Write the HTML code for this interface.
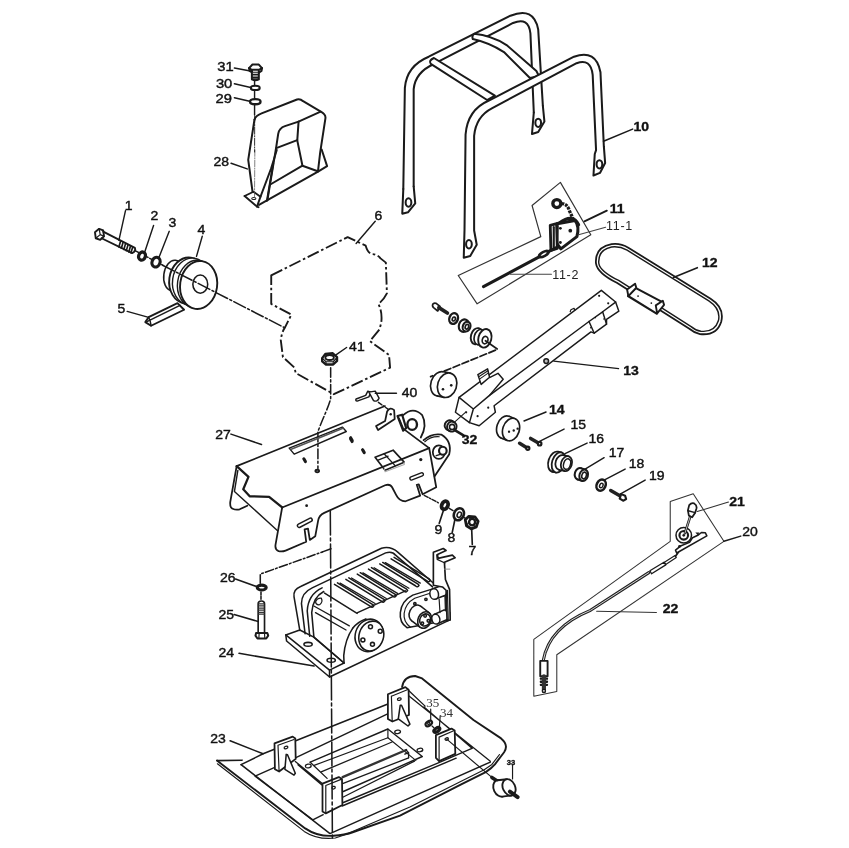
<!DOCTYPE html>
<html><head><meta charset="utf-8">
<style>
html,body{margin:0;padding:0;background:#fff;}
body{width:849px;height:848px;overflow:hidden;font-family:"Liberation Sans",sans-serif;}
svg{display:block;filter:grayscale(1);}
.l{fill:none;stroke:#1a1a1a;stroke-linecap:round;stroke-linejoin:round;}
.w{fill:#fff;stroke:#1a1a1a;stroke-linecap:round;stroke-linejoin:round;}
.k{fill:#1a1a1a;stroke:none;}
.t{font-family:"Liberation Sans",sans-serif;fill:#111;stroke:#111;stroke-width:0.4px;}
.tb{font-family:"Liberation Sans",sans-serif;font-weight:bold;fill:#111;stroke:#111;stroke-width:0.35px;}
</style></head><body>
<svg width="849" height="848" viewBox="0 0 849 848">
<rect width="849" height="848" fill="#fff"/>
<!-- part 28 guard -->
<g transform="translate(235,95) scale(0.12972)" class="l" stroke-width="15.34">
<path d="M150,190 Q158,160 205,142 L478,35 Q503,28 525,48 L658,126 Q702,148 697,180 L657,440 L640,585"/>
<path d="M660,128 L490,205 L385,240 Q340,255 333,300 L318,400 L250,810"/>
<path d="M490,205 L480,350 L520,545 L638,588"/>
<path d="M318,410 L480,348"/>
<path d="M520,545 L272,690"/>
<path d="M640,590 L185,847"/>
<path d="M668,420 L710,548 L640,590"/>
<path d="M150,190 L102,500 L135,745"/>
</g>
<g transform="translate(240,150) scale(0.07077)" class="l" stroke-width="27.14">
<path d="M520,0 L440,260 L290,660 L240,800 L262,808"/>
<path d="M470,190 L380,720"/>
<path d="M65,650 L190,590 L290,660"/>
<path d="M65,650 L240,800"/>
<ellipse cx="195" cy="685" rx="30" ry="15" stroke-width="14.16"/>
<path d="M210,0 L205,680" stroke-width="10.62" stroke="#555" stroke-dasharray="90 20 15 20"/>
</g>

<!-- parts 29-31 -->
<g transform="translate(210,55) scale(0.07075)" class="l" stroke-width="28.32">
<path d="M630,365 L630,420 M630,505 L630,615 M630,705 L630,848" stroke-width="20.06"/>
<path class="w" d="M552,185 L600,135 L690,135 L735,185 L728,225 L690,250 L600,250 L560,225 Z"/>
<path d="M552,185 L590,210 L690,210 L735,185 M590,210 L597,250 M690,210 L690,250"/>
<path class="w" d="M592,250 L592,345 Q640,372 690,345 L690,250"/>
<path d="M602,275 L680,275 M602,297 L680,297 M602,319 L680,319 M602,340 L680,340" stroke-width="16.64"/>
<ellipse cx="640" cy="465" rx="62" ry="30" stroke-width="30.68" fill="#fff"/>
<ellipse cx="640" cy="660" rx="74" ry="36" stroke-width="33.04" fill="#fff"/>
<path d="M345,185 L570,225 M345,408 L575,460 M345,603 L560,655" stroke-width="21.71"/>
</g>
<text class="t" transform="translate(217.2,71.3) scale(1.2,1)" font-size="12.3" >31</text>
<text class="t" transform="translate(215.9,87.9) scale(1.2,1)" font-size="12.3" >30</text>
<text class="t" transform="translate(215.6,102.6) scale(1.2,1)" font-size="12.3" >29</text>
<!-- parts 1-5 -->
<g transform="translate(90,195) scale(0.16509)" class="l" stroke-width="11.45">
<path d="M270,335 L440,425" stroke-width="9.32" stroke-dasharray="70 12 10 12"/>
<!-- bolt 1 -->
<path class="w" d="M30,225 L55,205 L80,215 L85,250 L62,272 L35,262 Z"/>
<path d="M55,205 L62,240 L85,250 M62,240 L35,262" stroke-width="7.20"/>
<path d="M80,222 L272,320 Q280,340 255,352 L70,262"/>
<path d="M185,280 L175,315 M200,288 L190,322 M215,296 L205,330 M230,303 L220,337 M245,311 L235,345 M258,318 L248,350" stroke-width="10.03"/>
<!-- washers -->
<ellipse cx="315" cy="370" rx="20" ry="25" transform="rotate(20 315 370)" stroke-width="20.06" fill="#fff"/>
<ellipse cx="400" cy="407" rx="24" ry="30" transform="rotate(20 400 407)" stroke-width="18.88" fill="#fff"/>
<!-- key 5 -->
<path class="w" d="M355,740 L530,655 L570,695 L370,792 L335,770 Z"/>
<path d="M345,767 L545,668 M355,740 L365,765 L370,792" stroke-width="8.61"/>
<!-- pulley -->
<ellipse class="w" cx="505" cy="487" rx="58" ry="92" transform="rotate(8 505 487)" stroke-width="9.32"/>
<ellipse class="w" cx="592" cy="518" rx="112" ry="140" transform="rotate(8 592 518)"/>
<ellipse class="w" cx="612" cy="524" rx="112" ry="142" transform="rotate(8 612 524)" stroke-width="8.61"/>
<ellipse class="w" cx="640" cy="538" rx="110" ry="143" transform="rotate(8 640 538)" stroke-width="8.61"/>
<ellipse class="w" cx="658" cy="545" rx="112" ry="146" transform="rotate(8 658 545)"/>
<ellipse cx="668" cy="540" rx="45" ry="55" stroke-width="9.32"/>

<!-- leaders -->
<path d="M215,95 L175,275 M385,185 L330,350 M480,220 L415,385 M680,250 L645,372 M225,705 L350,740" stroke-width="8.61"/>
</g>

<!-- engine 6, nut 41 -->
<g transform="translate(250,200) scale(0.21226)" class="l" stroke-width="8.85">
<path d="M100,355 L460,175 L545,215 Q555,250 575,255 Q600,255 615,275 L640,295 L645,440 Q630,470 605,490 Q625,530 618,580 L610,610 L565,665 L655,730 L660,790 L395,915 L215,815 L210,790 L155,740 L145,660 Q150,620 165,600 L195,540 L100,490 Z" stroke-dasharray="58 13 12 13" stroke-linecap="butt"/>

<path d="M380,790 L380,935 Q375,960 340,1040 L320,1090 L320,1265" stroke-width="7.20" stroke-dasharray="45 12 10 12"/>
<path class="w" d="M340,745 L355,725 L390,722 L410,740 L410,758 L392,775 L358,775 L340,760 Z" stroke-width="11.09"/>
<ellipse cx="375" cy="742" rx="20" ry="12" stroke-width="8.85"/>
<path d="M340,745 L358,762 L392,762 L410,742 M358,762 L358,775 M392,762 L392,775" stroke-width="5.55"/>
<path d="M590,100 L500,205 M455,695 L405,730" stroke-width="6.73"/>
</g>
<!-- 40 -->
<g transform="translate(250,320) scale(0.21226)" class="l" stroke-width="6.73">
<path d="M500,372 Q495,380 505,382 L560,362 L570,340 L555,335 L545,355 Z" class="w"/>
<path d="M560,340 L590,335 L608,368 Q600,388 582,380 Z" class="w"/>
<path d="M690,345 L590,345"/>
<path d="M605,388 L650,420" stroke-dasharray="20 8 6 8"/>
</g>

<!-- handle 10 -->
<g transform="translate(395,10) scale(0.25943)" class="l" stroke-width="7.79">
<!-- back U -->
<path d="M32,690 L38,300 Q45,215 130,180 L445,22 Q535,-15 552,75 L570,370"/>
<path d="M72,680 L72,305 Q78,240 150,208 L455,50 Q515,25 522,90 L535,395"/>
<path d="M32,690 L28,785 L50,780 L78,745 L72,680"/>
<ellipse cx="52" cy="742" rx="11" ry="16"/>
<path d="M535,395 L528,478 L552,470 L576,430 L570,370"/>
<ellipse cx="552" cy="435" rx="11" ry="16"/>
<!-- cross bars -->
<path class="w" d="M150,185 L385,330 L355,347 L138,208 Q128,195 150,185 Z"/>
<path class="w" d="M305,92 Q370,98 430,135 L545,235 L555,255 L520,262 L420,162 Q360,125 300,112 Q295,98 305,92 Z"/>
<!-- front U -->
<path class="w" d="M268,845 L272,480 Q280,385 360,350 L690,180 Q775,150 792,240 L805,525 L810,590 L790,628 L765,638 L770,555 L775,540 L762,250 Q755,185 700,205 L375,378 Q312,410 305,485 L305,850 L315,905 L290,948 L265,955 Z"/>
<ellipse cx="788" cy="595" rx="11" ry="16"/>
<ellipse cx="285" cy="903" rx="11" ry="16"/>
</g>

<!-- 11 lever box -->
<g transform="translate(450,180) scale(0.23585)" class="l" stroke-width="4.96">
<path d="M35,405 L385,240 L348,108 L468,10 L597,232 L115,525 Z" stroke="#333"/>
<circle cx="453" cy="100" r="17" stroke-width="14"/>
<path d="M472,100 Q498,100 506,130 L522,165" stroke-width="14" stroke-dasharray="12 4" stroke-linecap="butt"/>
<path d="M465,182 Q520,140 545,190" stroke-width="14"/>
<path class="w" d="M455,185 L530,172 Q550,195 538,240 L470,292 L452,268 Z" stroke-width="13"/>
<path class="w" d="M425,192 L452,185 L455,290 L428,298 Z" stroke-width="12.04"/>
<circle cx="510" cy="215" r="8" class="k"/>
<circle cx="468" cy="205" r="6" class="k"/><circle cx="468" cy="265" r="6" class="k"/>
<path d="M455,285 L415,305" stroke-width="13"/><path d="M440,200 L440,285" stroke-width="9"/>
<ellipse cx="398" cy="314" rx="22" ry="9" transform="rotate(-28 398 314)" stroke-width="11"/>
<path d="M378,326 L142,452" stroke-width="12.98"/>
<path d="M665,130 L570,175" stroke-width="8.02"/>
<path d="M660,200 L545,232 M430,400 L255,400" stroke="#444" stroke-width="4.48"/>
<path d="M715,800 L440,768" stroke-width="4.96"/>
</g>

<!-- 12 loop handle -->
<g transform="translate(585,235) scale(0.17689)" class="l" stroke-width="10.03">
<path d="M62,160 Q55,70 150,52 Q200,45 245,72 L710,360 Q790,410 770,490 Q745,570 650,560 Q620,555 590,530 L180,270 Q70,215 62,160 Z"/>
<path d="M78,160 Q72,85 150,68 Q195,62 238,86 L700,372 Q770,418 754,485 Q733,552 655,544 Q625,540 600,518 L190,257 Q85,205 78,160 Z" stroke-width="8.02"/>
<path class="w" d="M243,345 L288,300 L435,378 L405,445 Z" stroke-width="12.04"/>
<path class="w" d="M238,308 L283,275 L290,298 L245,345 Z" stroke-width="10.62"/>
<path class="w" d="M400,398 L440,372 L447,395 L408,443 Z" stroke-width="10.62"/>
<circle cx="300" cy="345" r="5" class="k"/><circle cx="375" cy="385" r="5" class="k"/>
<path d="M635,185 L500,240" stroke-width="9.32"/>
</g>

<!-- 13 arm -->
<g transform="translate(420,280) scale(0.25943)" class="l" stroke-width="5.66">
<path class="w" d="M150.6,452.3 L699,40 L754,85 L766.5,120 L719,152 L719,170 L671.5,205 L659,200 L285.6,484.8 L290.6,509.8 L228,562 L190.6,549.8 L136.6,509.8 Z"/>
<path d="M150.6,452.3 L205.6,497.3 L190.6,549.8 M205.6,497.3 L268,444.8 L651.5,160 L704,122.5 L754,85"/>
<path d="M651.5,160 L671.5,205 M704,122.5 L719,170 M268,444.8 L320.6,382.3 L300.6,359.8 L268,376"/>
<path class="w" d="M223,364.8 L260.6,342.3 L268,374.8 L235.6,402.3 Z"/>
<path d="M228,372 L262,350 M232,380 L264,358" stroke-width="4.13"/>
<path d="M579,122.5 L581.5,115 L594,109 L596.5,117.5" stroke-width="4.60"/>
<circle cx="690.5" cy="61" r="4.2" class="k"/><circle cx="725.5" cy="90" r="4.2" class="k"/>
<circle cx="178" cy="510" r="4.2" class="k"/><circle cx="222" cy="525" r="4.2" class="k"/><circle cx="263" cy="492" r="4.2" class="k"/>
<circle cx="676" cy="145" r="3" class="k"/><circle cx="709" cy="150" r="3" class="k"/><circle cx="658" cy="184" r="3" class="k"/>
<ellipse cx="486.5" cy="312.5" rx="9" ry="9" stroke-width="5.90" fill="#bbb"/>
</g>

<!-- small parts near arm top-left -->
<g transform="translate(420,290) scale(0.11792)" class="l" stroke-width="14.04">
<path d="M640,510 L90,735" stroke-dasharray="60 22" stroke-width="14.99"/>
<path class="w" d="M110,118 Q125,105 140,115 L170,140 L150,178 L115,150 Q100,135 110,118 Z"/>
<path d="M160,150 L232,195" stroke-width="31.98" stroke="#222"/>
<ellipse class="w" cx="285" cy="242" rx="36" ry="46" transform="rotate(20 285 242)" stroke-width="20.06"/>
<ellipse cx="287" cy="246" rx="13" ry="17" transform="rotate(20 287 246)"/>
<ellipse class="w" cx="372" cy="302" rx="42" ry="54" transform="rotate(20 372 302)" stroke-width="18.05"/>
<ellipse class="w" cx="395" cy="310" rx="32" ry="42" transform="rotate(20 395 310)" stroke-width="18.05"/>
<ellipse cx="398" cy="312" rx="14" ry="20" transform="rotate(20 398 312)"/>
<ellipse class="w" cx="480" cy="392" rx="48" ry="70" transform="rotate(15 480 392)" stroke-width="16.05"/>
<ellipse class="w" cx="505" cy="400" rx="45" ry="66" transform="rotate(15 505 400)" stroke-width="14.04"/>
<ellipse class="w" cx="550" cy="410" rx="55" ry="80" transform="rotate(15 550 410)" stroke-width="16.05"/>
<ellipse cx="552" cy="425" rx="24" ry="32" transform="rotate(15 552 425)"/>
<path d="M555,430 L655,500"/>
</g>

<!-- discs, 32, 14 -->
<g transform="translate(420,360) scale(0.11792)" class="l" stroke-width="14.04">
<ellipse class="w" cx="172" cy="202" rx="80" ry="106" transform="rotate(18 172 202)"/><path d="M146.0,304.6 L204.0,316.6 L256.0,111.4 L198.0,99.4 Z" fill="#fff" stroke="none"/><path d="M146.0,304.6 L204.0,316.6 M198.0,99.4 L256.0,111.4"/><ellipse class="w" cx="230" cy="214" rx="80" ry="106" transform="rotate(18 230 214)"/>

<circle cx="195" cy="248" r="11" class="k"/><circle cx="265" cy="215" r="11" class="k"/>
<path d="M300,520 L390,440" stroke-width="8.97"/>
<ellipse class="w" cx="250" cy="553" rx="40" ry="42" transform="rotate(20 250 553)" stroke-width="16.99"/><path d="M229.0,589.3 L249.0,601.3 L291.0,528.7 L271.0,516.7 Z" fill="#fff" stroke="none"/><path d="M229.0,589.3 L249.0,601.3 M271.0,516.7 L291.0,528.7" stroke-width="16.99"/><ellipse class="w" cx="270" cy="565" rx="40" ry="42" transform="rotate(20 270 565)" stroke-width="16.99"/>

<ellipse cx="272" cy="568" rx="22" ry="22" stroke-width="12.98"/>
<path d="M295,595 L372,642" stroke-width="22.07"/>
<ellipse class="w" cx="722" cy="570" rx="70" ry="98" transform="rotate(18 722 570)"/><path d="M688.8,662.2 L738.8,682.2 L805.2,497.8 L755.2,477.8 Z" fill="#fff" stroke="none"/><path d="M688.8,662.2 L738.8,682.2 M755.2,477.8 L805.2,497.8"/><ellipse class="w" cx="772" cy="590" rx="70" ry="98" transform="rotate(18 772 590)"/>

<circle cx="755" cy="608" r="10" class="k"/><circle cx="795" cy="598" r="10" class="k"/><circle cx="828" cy="582" r="10" class="k"/>
</g>

<!-- 15-19 -->
<g transform="translate(510,400) scale(0.20024)" class="l" stroke-width="8.26">
<path d="M103,192 L140,214" stroke-width="17.70" stroke="#222"/>
<circle class="w" cx="148" cy="218" r="9" stroke-width="10.62"/>
<path d="M48,216 L82,237" stroke-width="17.70" stroke="#222"/>
<circle class="w" cx="89" cy="241" r="8" stroke-width="10.62"/>
<ellipse class="w" cx="225" cy="308" rx="33" ry="52" transform="rotate(18 225 308)" stroke-width="8.85"/><path d="M210.9,358.0 L228.9,362.0 L257.1,262.0 L239.1,258.0 Z" fill="#fff" stroke="none"/><path d="M210.9,358.0 L228.9,362.0 M239.1,258.0 L257.1,262.0" stroke-width="8.85"/><ellipse class="w" cx="243" cy="312" rx="33" ry="52" transform="rotate(18 243 312)" stroke-width="8.85"/>
<ellipse class="w" cx="255" cy="312" rx="27" ry="38" transform="rotate(18 255 312)" stroke-width="8.85"/><path d="M245.1,348.6 L272.1,354.6 L291.9,281.4 L264.9,275.4 Z" fill="#fff" stroke="none"/><path d="M245.1,348.6 L272.1,354.6 M264.9,275.4 L291.9,281.4" stroke-width="8.85"/><ellipse class="w" cx="282" cy="318" rx="27" ry="38" transform="rotate(18 282 318)" stroke-width="8.85"/>

<ellipse cx="285" cy="320" rx="17" ry="27" transform="rotate(18 285 320)" stroke-width="7.67"/>
<ellipse class="w" cx="345" cy="368" rx="21" ry="29" transform="rotate(18 345 368)" stroke-width="10.03"/><path d="M335.7,395.5 L358.7,403.5 L377.3,348.5 L354.3,340.5 Z" fill="#fff" stroke="none"/><path d="M335.7,395.5 L358.7,403.5 M354.3,340.5 L377.3,348.5" stroke-width="10.03"/><ellipse class="w" cx="368" cy="376" rx="21" ry="29" transform="rotate(18 368 376)" stroke-width="10.03"/>

<ellipse cx="370" cy="377" rx="11" ry="17" transform="rotate(18 370 377)" stroke-width="7.67"/>
<ellipse class="w" cx="455" cy="425" rx="22" ry="29" transform="rotate(25 455 425)" stroke-width="12.98"/>
<ellipse cx="456" cy="427" rx="8" ry="12" transform="rotate(25 456 427)" stroke-width="7.08"/>
<path d="M503,452 L555,482" stroke-width="17.70" stroke="#222"/>
<path class="w" d="M555,470 L575,478 L580,495 L565,503 L548,492 Z" stroke-width="10.62"/>
<path d="M180,60 L70,105 M270,145 L150,205 M385,215 L275,268 M470,288 L375,345 M575,345 L470,400 M675,400 L550,470" stroke-width="7.08"/>
</g>

<!-- frame 27 -->
<g transform="translate(215,385) scale(0.20047)" class="l" stroke-width="8.85">
<!-- back skirt near end -->
<path d="M108,405 L76,584 Q74,612 88,617 Q105,625 123,620 L161,602"/>
<path d="M114,426 L97,531 L311,726" stroke-width="7.08"/>
<!-- top face near jag edge -->
<path d="M108,405 L167,458 L141,520 L173,555 L270,558 L335,611" stroke-width="11.21"/>
<!-- top back edge -->
<path d="M108,405 L848,105"/>
<!-- front top edge -->
<path d="M335,611 L1068.5,315"/>
<!-- front skirt -->
<path d="M335,611 L302,796 Q298,822 317,829 Q335,833 352,826 L455,782 L447,720 L464,717 L473,773 L500,755 L514,679 Q518,650 545,638 L848.5,500 Q873.5,492 883.5,510 L903.5,548 Q918.5,580 950.5,580 L1023.5,552 L1006.5,498 L1016.5,496 L1035.5,545 L1103.5,510 L1068.5,315"/>
<!-- slot holes -->
<path d="M420,702 L476,673" stroke-width="24.78"/><path d="M420,702 L476,673" stroke-width="10.03" stroke="#fff"/>
<path d="M980.5,466 L1031.5,446" stroke-width="23.60"/><path d="M980.5,466 L1031.5,446" stroke-width="9.44" stroke="#fff"/>
<circle cx="457" cy="602" r="7" class="k"/><circle cx="1026.5" cy="372" r="8" class="k"/>
<!-- top face features -->
<path d="M370,315 L635,210 L655,232 L395,345 Z" stroke-width="7.08"/>
<path d="M380,320 L638,216" stroke-width="8.26" stroke="#555"/>
<path d="M443,368 L451,382 M676,268 L684,282 M736,323 L744,337 M676.5,263 L684.5,277 M736.5,323 L744.5,337" stroke-width="15.34"/>
<ellipse cx="510" cy="429" rx="9" ry="6" stroke-width="9.44"/>
<!-- rect cutout -->
<path d="M798.5,360 L888.5,325 L943.5,385 L848.5,425 Z" stroke-width="8.26"/>
<path d="M843.5,343 L898.5,402 M813.5,375 L863.5,355" stroke-width="6.49"/>
<path d="M844.5,412 L848.5,433 L944.5,397 L943.5,385" stroke="#aaa" stroke-width="5.31"/>
<!-- top right edge -->
<path d="M948.5,225 L1068.5,315"/>
<!-- hook bracket -->
<path class="w" d="M803.5,205 L848.5,180 L858.5,132 Q873.5,108 893.5,125 L896.5,170 L813.5,225 Z"/>
<circle cx="876.5" cy="146" r="6" class="k"/>
<!-- back-right lug -->
<path d="M938.5,150 Q988.5,105 1033.5,150 Q1060.5,200 1026.5,262" />
<ellipse cx="983.5" cy="197" rx="24" ry="27" stroke-width="11.80"/>
<path class="w" d="M910.5,155 L933.5,148 L953.5,215 L938.5,228 Z" stroke-width="10.62"/>
<path d="M918.5,165 L940.5,218" stroke-width="5.90"/>
<!-- front-right lug -->
<path d="M1040.5,275 Q1078.5,240 1128.5,247 Q1183.5,280 1168.5,345 L1095.5,455"/>
<path d="M1046.5,283 Q1076.5,255 1118.5,258" stroke-width="5.90"/>
<ellipse cx="1116.5" cy="335" rx="30" ry="34" stroke-width="8.85"/>
<ellipse class="w" cx="1136.5" cy="328" rx="19" ry="20" stroke-width="10.62"/>
<path d="M1103.5,352 L1123.5,346" stroke-width="7.08"/>
</g>

<!-- 7 8 9 -->
<g transform="translate(345,385) scale(0.20047)" class="l" stroke-width="8.85">
<path d="M395,550 L470,590 M520,615 L545,630 M592,660 L606,668" stroke-dasharray="22 8 6 8" stroke-width="7.08"/>
<ellipse class="w" cx="498" cy="600" rx="15" ry="21" transform="rotate(25 498 600)" stroke-width="19"/>
<ellipse class="w" cx="568" cy="645" rx="24" ry="31" transform="rotate(25 568 645)" stroke-width="12.98"/>
<ellipse cx="570" cy="647" rx="10" ry="14" transform="rotate(25 570 647)" stroke-width="7.67"/>
<path class="w" d="M600,672 L618,655 L648,658 L664,680 L655,708 L630,718 L606,702 Z" stroke-width="14.16"/>
<ellipse cx="634" cy="684" rx="15" ry="16" stroke-width="11.80"/>
<path d="M618,655 L625,672 L648,658 M625,672 L606,702 M655,708 L640,700" stroke-width="5.90"/>
<path d="M490,628 L470,690 M548,672 L535,735 M632,722 L635,795" stroke-width="8.26"/>
</g>

<!-- exciter 24 -->
<g transform="translate(280,540) scale(0.16509)" class="l" stroke-width="9.32">
<!-- base -->
<path class="w" d="M35,575 L120,545 L205,588 L388,745 L300,788 L300,830 L40,612 Z"/>
<path d="M35,575 L300,788 M300,830 L1029,484 L1029,440"/>

<ellipse cx="170" cy="632" rx="25" ry="12"/><ellipse cx="310" cy="728" rx="25" ry="12"/>
<!-- left end wall -->
<path d="M388,745 L386,700 Q395,600 440,535"/>
<path d="M205,588 L388,745"/>
<path d="M120,548 L85,345 Q78,300 125,282 L615,50 Q670,35 715,75 L944,274"/>
<path d="M152,568 L130,385 Q130,320 195,290 L640,78 Q680,65 700,92 L924,284"/>
<path d="M180,583 L165,430 Q170,330 255,290"/>
<path d="M205,585 L192,440 Q200,345 265,312"/>
<path d="M215,375 Q225,350 250,352 Q262,375 240,392 Q218,395 215,375" stroke-width="7.20"/>
<path d="M205,400 L420,520 M215,440 L400,545" stroke-width="7.91"/>
<path d="M270,322 L467,445"/><path d="M330,269 L546,401 Q560,415 568,399 L562,391 L348,260"/><path d="M364,261 L576,385" stroke-width="7.9"/><path d="M399,238 L614,370 Q628,384 636,368 L630,360 L417,229"/><path d="M433,230 L644,354" stroke-width="7.9"/><path d="M468,207 L682,339 Q696,353 704,337 L698,329 L486,198"/><path d="M502,199 L712,323" stroke-width="7.9"/><path d="M536,176 L751,308 Q765,322 773,306 L767,298 L554,167"/><path d="M570,168 L781,292" stroke-width="7.9"/><path d="M604,145 L820,277 Q834,291 842,275 L836,267 L622,136"/><path d="M638,137 L850,261" stroke-width="7.9"/><path d="M673,114 L888,246 Q902,260 910,244 L904,236 L691,105"/>
<!-- front face top edge -->
<path d="M440,535 Q470,495 520,478 M470,440 L760,308"/>
<!-- circular cover -->
<ellipse class="w" cx="540" cy="578" rx="84" ry="100" transform="rotate(18 540 578)"/>
<ellipse class="w" cx="553" cy="582" rx="74" ry="92" transform="rotate(18 553 582)"/>
<circle cx="548" cy="525" r="12"/><circle cx="607" cy="553" r="12"/><circle cx="502" cy="605" r="12"/><circle cx="560" cy="632" r="12"/>
<!-- right end cover -->
<path class="w" d="M769,531 Q722,499 729,439 Q736,369 804,334 L964,284 Q1002,279 1004,319 L1009,487 Z"/>
<path d="M789,527 Q746,495 752,444 Q759,384 816,353 L904,324" stroke-width="7.20"/>
<circle cx="884" cy="359.4" r="7"/><circle cx="817" cy="386.4" r="7"/>
<g transform="translate(424,-60.6)"><ellipse class="w" cx="400" cy="505" rx="40" ry="52" transform="rotate(25 400 505)"/><path d="M372.3,548.7 L424.3,588.7 L479.7,501.3 L427.7,461.3 Z" fill="#fff" stroke="none"/><path d="M372.3,548.7 L424.3,588.7 M427.7,461.3 L479.7,501.3"/><ellipse class="w" cx="452" cy="545" rx="40" ry="52" transform="rotate(25 452 545)"/>
<ellipse class="w" cx="455" cy="545" rx="32" ry="38" transform="rotate(25 455 545)"/><circle cx="455" cy="520" r="8"/><circle cx="475" cy="550" r="8"/><circle cx="438" cy="565" r="8"/><ellipse class="w" cx="560" cy="368" rx="26" ry="32" transform="rotate(-10 560 368)"/><path d="M550.3,337.7 L500.3,357.7 L519.7,418.3 L569.7,398.3 Z" fill="#fff" stroke="none"/><path d="M550.3,337.7 L500.3,357.7 M569.7,398.3 L519.7,418.3"/><ellipse class="w" cx="510" cy="388" rx="26" ry="32" transform="rotate(-10 510 388)"/>
<ellipse class="w" cx="575" cy="515" rx="24" ry="30" transform="rotate(-15 575 515)"/><path d="M564.3,487.1 L509.3,512.1 L530.7,567.9 L585.7,542.9 Z" fill="#fff" stroke="none"/><path d="M564.3,487.1 L509.3,512.1 M585.7,542.9 L530.7,567.9"/><ellipse class="w" cx="520" cy="540" rx="24" ry="30" transform="rotate(-15 520 540)"/>
<path d="M540,420 L545,500 M575,400 L578,490" stroke-width="7.20"/>
<!-- fork bracket -->
<path class="w" d="M505,135 L565,112 L582,124 L530,148 L533,172 L620,152 L637,168 L572,196 L578,300 L603,360 L607,545 L588,550 L582,365 L560,345 L505,335 Z" stroke-width="10.03"/>
<path d="M525,150 L528,178 L575,200 M590,365 L595,545" stroke-width="7.20"/>
<path d="M572,237 L605,237" stroke="#888" stroke-width="5.66"/>
</g>
</g>

<!-- 25 26 -->
<g transform="translate(215,555) scale(0.14151)" class="l" stroke-width="11.68">
<path d="M320,200 L320,135 L760,-22" stroke-dasharray="60 16 12 16" stroke-width="10.86"/>
<path d="M325,262 L325,320" stroke-dasharray="20 10" stroke-width="10.86"/>
<ellipse class="w" cx="330" cy="230" rx="32" ry="17" stroke-width="21.71"/>
<path class="w" d="M305,545 L305,345 Q305,325 328,325 Q350,325 350,345 L350,545"/>
<path d="M308,345 L348,345 M308,360 L348,360 M308,375 L348,375 M308,390 L348,390 M308,405 L348,405 M308,418 L348,418" stroke-width="9.20" stroke="#333"/>
<path class="w" d="M290,552 L370,552 L376,570 L362,590 L300,590 L286,570 Z" stroke-width="14.16"/>
<path d="M312,552 L310,590 M350,552 L352,590" stroke-width="8.38"/>
<path d="M145,170 L300,225 M135,420 L305,470 M170,695 L700,785" stroke-width="10.86"/>
</g>

<!-- base plate 23 -->
<g class="l">
<path d="M217,760.6 L305.2,828.4 Q317.3,836.8 333.3,835.8 Q345,835 352,832.5 L400,815.7 L461.2,784.3 L485.7,772.1 Q492,768 494.9,764.4 L504.1,752.2 Q509,745 501.1,738.4 L473.5,720 L422.1,678.4 L415.1,676 Q404,676 402.1,687" stroke-width="1.89" />
<path d="M217.4,763.8 L304.2,831.4 Q317.3,840 335.3,838 L345,834.8 L409.9,807 L461.2,781.2 L484.2,769.8 L491.9,764.4 L499.5,754.5" stroke-width="1.18" />
<path d="M217,760.6 L242,760.2" stroke-width="1.65" />
<path d="M241.1,764.6 L263.1,753.8 L387.9,704" stroke-width="1.53" />
<path d="M241.1,764.6 L330,833.6 L409.9,797.9 L490.3,762.1" stroke-width="1.53" />
<path d="M255.1,776.2 L274.2,767.6 M255.1,776.2 L312.8,819.9 L323.2,814.7" stroke-width="1.42" />
<path d="M343.4,802.5 L438.3,762.9 L472,748.3 M342.1,806 L456.2,758.2" stroke-width="1.42" />
<path d="M409.3,696.2 L490.3,761.3 M424,707 L472,748.3 M408.1,690 L425.1,706.1" stroke-width="1.30" />
<path d="M295.9,757.6 L389.2,713.1" stroke-width="1.42" />
<path d="M310.2,762.2 L387.9,729 L422.3,756.5 L343.3,791.5" stroke-width="1.42" />
<path d="M314.1,765.4 L387.9,737.7 L415.8,760.4" stroke-width="1.18" />
<path d="M387.9,729 L387.9,737.7" stroke-width="1.18" />
<path d="M321.2,771.9 L392,742" stroke-width="1.30" />
<path d="M342.6,777.1 L406.1,750" stroke-width="2.36" stroke="#333"/>
<path d="M 406.0,750.0 L 408.6,752.6 L 408.6,757.8 M 408.6,752.6 L 404.8,754.2" stroke-width="1.30" />
<path d="M342.6,783.6 L408.6,757.8 M343.3,797 L414.5,761.1" stroke-width="1.30" />
<path d="M 295.3,761.5 L 323.2,784.2 M 310.2,762.2 L 327.1,778.4 M 297.9,764.8 L 321.9,784.9" stroke-width="1.30" />
<ellipse class="l" cx="308.3" cy="766.0" rx="2.9" ry="1.8" transform="rotate(-10 308.3 766.0)" stroke-width="1.30"/>
<ellipse class="l" cx="397.6" cy="731.9" rx="2.9" ry="1.7" transform="rotate(-10 397.6 731.9)" stroke-width="1.30"/>
<ellipse class="l" cx="419.9" cy="750.0" rx="2.9" ry="1.7" transform="rotate(-10 419.9 750.0)" stroke-width="1.30"/>
<path class="w" d="M 274.5,743.3 L 292.7,736.6 L 295.3,738.5 L 295.7,758.9 L 279.1,771.5 L 274.9,769.3 Z" stroke-width="1.77"/>
<path d="M 278.0,745.3 L 279.1,771.5 M 278.0,745.3 L 294.0,739.5" stroke-width="1.18" />
<ellipse class="l" cx="286.0" cy="747.5" rx="1.9" ry="1.2" transform="rotate(-15 286.0 747.5)" stroke-width="1.30"/>
<path class="w" d="M 286.2,754.4 L 284.9,769.3 L 294.0,775.1 L 295.3,773.2 L 287.5,754.8 Z" stroke-width="1.53"/>
<path class="w" d="M 322.5,783.6 L 338.8,777.1 L 342.0,779.0 L 342.4,805.0 L 325.8,813.4 L 322.5,811.5 Z" stroke-width="1.77"/>
<path d="M 325.8,785.5 L 325.8,813.4 M 325.8,785.5 L 341.1,779.4" stroke-width="1.18" />
<ellipse class="l" cx="333.6" cy="787.7" rx="1.7" ry="1.3" transform="rotate(-15 333.6 787.7)" stroke-width="1.30"/>
<path class="w" d="M 387.9,694.3 L 405.4,687.1 L 408.6,689.7 L 409.0,715.0 L 392.4,721.5 L 387.9,718.9 Z" stroke-width="1.77"/>
<path d="M 391.4,696.2 L 392.2,721.2 M 391.4,696.2 L 407.3,689.7" stroke-width="1.18" />
<ellipse class="l" cx="399.3" cy="699.1" rx="1.9" ry="1.2" transform="rotate(-15 399.3 699.1)" stroke-width="1.30"/>
<path class="w" d="M 400.2,705.3 L 398.3,718.9 L 408.0,726.0 L 409.9,724.1 L 401.5,705.3 Z" stroke-width="1.53"/>
<path class="w" d="M 435.9,735.1 L 451.5,728.6 L 454.7,730.6 L 455.3,753.9 L 439.1,761.1 L 435.9,757.8 Z" stroke-width="1.77"/>
<path d="M 439.1,737.1 L 439.1,761.1 M 439.1,737.1 L 453.7,730.8" stroke-width="1.18" />
<ellipse class="l" cx="446.7" cy="739.0" rx="1.7" ry="1.2" transform="rotate(-15 446.7 739.0)" stroke-width="1.30"/>
</g>

<!-- 33 mount -->
<g transform="translate(400,720) scale(0.15312)" class="l" stroke-width="10.74">
<path d="M305,125 L600,375" stroke-width="7.67"/>
<path d="M600,375 L635,398" stroke-width="23.13"/>
<ellipse class="w" cx="652" cy="447" rx="40" ry="56" transform="rotate(-25 652 447)" stroke-width="12.27"/><path d="M666.5,500.3 L726.5,493.3 L697.5,386.7 L637.5,393.7 Z" fill="#fff" stroke="none"/><path d="M666.5,500.3 L726.5,493.3 M637.5,393.7 L697.5,386.7" stroke-width="12.27"/><ellipse class="w" cx="712" cy="440" rx="40" ry="56" transform="rotate(-25 712 440)" stroke-width="12.27"/>

<path d="M718,468 L768,503" stroke-width="26.20"/>
<path d="M735,295 L735,385" stroke-width="7.67"/>
</g>
<!-- 34 35 -->
<g class="l"><ellipse class="w" cx="428.8" cy="723.5" rx="3.6" ry="2.2" transform="rotate(-35 428.8 723.5)" stroke-width="2.12" />
<ellipse class="l" cx="428.8" cy="723.5" rx="1.3" ry="0.8" transform="rotate(-35 428.8 723.5)" stroke-width="1.18" />
<ellipse class="w" cx="436.8" cy="729.9" rx="3.4" ry="1.8" transform="rotate(-35 436.8 729.9)" stroke-width="3.07" />
<path d="M 430.7,709.2 L 430.7,720.0 M 440.2,715.7 L 439.4,727.0" stroke-width="1.18"/><path d="M 432.0,726.0 L 433.9,727.7" stroke-width="1.18"/></g>

<!-- cable 20-22 -->
<g transform="translate(520,480) scale(0.30660)" class="l" stroke-width="3.89">
<path d="M45,705 L45,520 L490,200 L490,70 L565,45 L665,200 L120,570 L120,690 Z" stroke="#333" stroke-width="3.42"/>
<path d="M665,200 L720,183" stroke-width="4.96"/>
<path d="M76,588 Q95,480 230,425 L420,302" stroke-width="10.03" stroke="#222"/>
<path d="M76,588 Q95,480 230,425 L420,302" stroke-width="3.07" stroke="#ddd"/>
<g transform="translate(391.4,0) scale(0.5385)">
<path class="w" d="M60,550 L145,498 L156,514 L70,568 Z" stroke-width="7.9"/>
<path class="w" d="M148,498 L212,458 L220,470 L156,512 Z" stroke-width="7.1"/>
<path d="M215,462 L232,438" stroke-width="11.4"/>
<path class="w" d="M222,442 L405,338 L396,320 L372,318 L350,335 L318,350 L300,378 L245,400 L215,425 Z" stroke-width="9.3"/>
<circle cx="240" cy="402" r="9" class="k"/>
<path d="M335,318 L360,318 L350,335 Z" class="k"/>
<circle class="w" cx="265" cy="335" r="47" stroke-width="9.3"/>
<circle cx="265" cy="335" r="26" stroke-width="12.9"/>
<circle cx="265" cy="335" r="8" class="k"/>
<path d="M272,322 L303,225" stroke-width="15.7"/>
<path d="M272,322 L303,225" stroke-width="4.3" stroke="#fff"/>
<path class="w" d="M298,152 Q312,136 328,142 Q346,152 342,172 L334,198 L316,226 L296,216 L290,184 Z" stroke-width="10.7"/>
<path d="M292,186 L334,198" stroke-width="8.6"/>
</g>
<path d="M680,72 L578,103" stroke-width="3.42" stroke="#333"/>
<path class="w" d="M66,590 L90,590 L90,640 L66,640 Z" stroke-width="6.14"/>
<path d="M68,648 L88,648 M68,658 L88,658 M68,668 L88,668" stroke-width="7.67"/>
<path d="M78,640 L78,688" stroke-width="13.45" stroke="#333"/>
<circle cx="78" cy="688" r="5" class="w" stroke-width="4.60"/>
<path d="M445,432 L250,428" stroke-width="3.42" stroke="#333"/>
</g>

<!-- labels -->
<text class="t" transform="translate(213.5,166.0) scale(1.12,1)" font-size="12.5" >28</text>
<text class="t" transform="translate(124.8,209.9) scale(1.12,1)" font-size="12.5" >1</text>
<text class="t" transform="translate(150.4,219.8) scale(1.12,1)" font-size="12.5" >2</text>
<text class="t" transform="translate(168.5,227.2) scale(1.12,1)" font-size="12.5" >3</text>
<text class="t" transform="translate(197.4,233.8) scale(1.12,1)" font-size="12.5" >4</text>
<text class="t" transform="translate(117.4,313.0) scale(1.12,1)" font-size="12.5" >5</text>
<text class="t" transform="translate(374.5,220.2) scale(1.12,1)" font-size="12.5" >6</text>
<text class="t" transform="translate(349.1,351.1) scale(1.12,1)" font-size="12.5" >41</text>
<text class="t" transform="translate(401.7,396.8) scale(1.12,1)" font-size="12.5" >40</text>
<text class="tb" transform="translate(633.5,130.6) scale(1.12,1)" font-size="12.5" >10</text>
<text class="tb" transform="translate(609.7,213.0) scale(1.12,1)" font-size="12.5" >11</text>
<text class="tb" transform="translate(701.9,266.8) scale(1.12,1)" font-size="12.5" >12</text>
<text class="tb" transform="translate(623.2,374.8) scale(1.12,1)" font-size="12.5" >13</text>
<text class="tb" transform="translate(548.9,413.6) scale(1.12,1)" font-size="12.5" >14</text>
<text class="t" transform="translate(570.4,429.0) scale(1.12,1)" font-size="12.5" >15</text>
<text class="t" transform="translate(588.4,443.1) scale(1.12,1)" font-size="12.5" >16</text>
<text class="t" transform="translate(608.8,457.1) scale(1.12,1)" font-size="12.5" >17</text>
<text class="t" transform="translate(628.8,468.1) scale(1.12,1)" font-size="12.5" >18</text>
<text class="t" transform="translate(648.9,480.1) scale(1.12,1)" font-size="12.5" >19</text>
<text class="tb" transform="translate(461.8,444.0) scale(1.12,1)" font-size="12.5" >32</text>
<text class="t" transform="translate(434.5,534.4) scale(1.12,1)" font-size="12.5" >9</text>
<text class="t" transform="translate(447.5,542.4) scale(1.12,1)" font-size="12.5" >8</text>
<text class="t" transform="translate(468.6,555.0) scale(1.12,1)" font-size="12.5" >7</text>
<text class="t" transform="translate(215.3,439.1) scale(1.12,1)" font-size="12.5" >27</text>
<text class="t" transform="translate(220.0,581.6) scale(1.12,1)" font-size="12.5" >26</text>
<text class="t" transform="translate(218.5,619.4) scale(1.12,1)" font-size="12.5" >25</text>
<text class="t" transform="translate(218.5,657.2) scale(1.12,1)" font-size="12.5" >24</text>
<text class="t" transform="translate(210.3,743.2) scale(1.12,1)" font-size="12.5" >23</text>
<text class="tb" transform="translate(729.3,505.8) scale(1.12,1)" font-size="12.5" >21</text>
<text class="t" transform="translate(742.2,535.8) scale(1.12,1)" font-size="12.5" >20</text>
<text class="tb" transform="translate(662.8,612.5) scale(1.12,1)" font-size="12.5" >22</text>
<text class="tb" transform="translate(506.8,764.6) scale(1.0,1)" font-size="7.6" >33</text>
<text font-family="Liberation Serif" font-size="13" fill="#333" x="426.3" y="707.2">35</text>
<text font-family="Liberation Serif" font-size="13" fill="#333" x="440" y="717">34</text>
<text font-family="Liberation Sans" font-size="12.5" fill="#222" letter-spacing="0.7" x="606" y="230.3">11-1</text>
<text font-family="Liberation Sans" font-size="12.5" fill="#222" letter-spacing="0.7" x="552.2" y="279.4">11-2</text>
<path class="l" stroke-width="1.53" d="M231.1,163.2 L247.2,168.9 M632.6,129.1 L603.5,141.3 M231,434.1 L261.5,444.5 M230.1,740.8 L263.1,753.8"/>

<!-- centre lines -->
<path class="l" d="M330.3,511 L332.4,838" stroke-width="1.53" stroke-dasharray="24 3 3 3"/>
<path class="l" d="M322.5,551.9 L331,548.8" stroke-width="1.53"/>

<path class="l" d="M162.6,265.2 L284,327.4" stroke-width="1.53" stroke-dasharray="13 2.5 2 2.5"/>
<path class="l" d="M254.7,116 L254.6,152" stroke="#555" stroke-width="0.9" stroke-dasharray="7 1.5 1.2 1.5"/>
<!--PARTS-->
</svg>
</body></html>
